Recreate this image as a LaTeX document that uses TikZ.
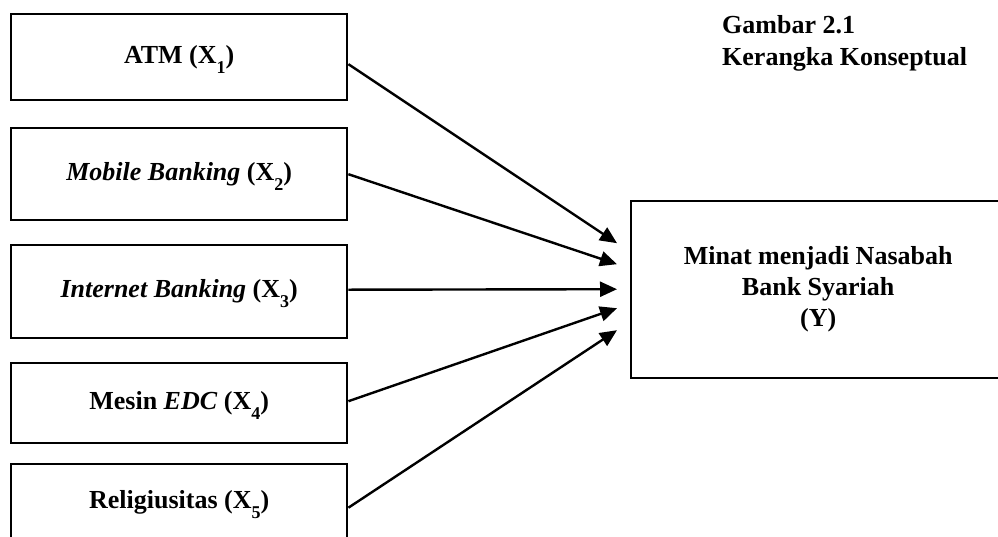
\documentclass[tikz,border=0pt]{standalone}
\usepackage{fontspec}
\setmainfont{Liberation Serif}
\usetikzlibrary{arrows.meta}
\newcommand\subx[1]{\raisebox{-10pt}[0pt][0pt]{\fontsize{18}{18}\selectfont #1}}
\begin{document}
\begin{tikzpicture}[x=1pt,y=-1pt,
  box/.style={draw, line width=2.4pt, anchor=north west, minimum width=336pt,
    inner sep=0pt, text height=18pt, text depth=6pt,
    font=\fontsize{26}{31}\selectfont\bfseries},
  arr/.style={line width=2.4pt, -{Triangle[length=17pt,width=15pt]}}]
\useasboundingbox (0,0) rectangle (998,536);
\fill[white] (0,0) rectangle (998,536);
\node[box, minimum height=86pt] (x1) at (10,13) {ATM (X\subx{1})};
\node[box, minimum height=92pt] (x2) at (10,127) {\textit{Mobile Banking} (X\subx{2})};
\node[box, minimum height=93pt] (x3) at (10,244) {\textit{Internet Banking} (X\subx{3})};
\node[box, minimum height=80pt] (x4) at (10,362) {Mesin \textit{EDC} (X\subx{4})};
\node[box, minimum height=77pt] (x5) at (10,463) {Religiusitas (X\subx{5})};
\node[draw, line width=2.4pt, anchor=north west, minimum width=374pt, minimum height=177pt,
  align=center, inner sep=0pt, font=\fontsize{26}{31}\selectfont\bfseries] (y) at (630,200)
  {Minat menjadi Nasabah\\Bank Syariah\\(Y)};
\node[anchor=base west, align=left, inner sep=0pt,
  font=\fontsize{26}{32}\selectfont\bfseries] (title) at (722,65)
  {Gambar 2.1\\Kerangka Konseptual};
\draw[arr] ([yshift=-7pt]x1.east) -- ([xshift=-13pt,yshift=46.5pt]y.west);
\draw[arr] (x2.east) -- ([xshift=-13pt,yshift=25.5pt]y.west);
\draw[arr] ([yshift=2pt]x3.east) -- ([xshift=-13pt,yshift=0.5pt]y.west);
\draw[arr] ([yshift=2pt]x4.east) -- ([xshift=-13pt,yshift=-18.5pt]y.west);
\draw[arr] ([yshift=-5pt]x5.east) -- ([xshift=-13pt,yshift=-40.5pt]y.west);
\end{tikzpicture}
\end{document}
